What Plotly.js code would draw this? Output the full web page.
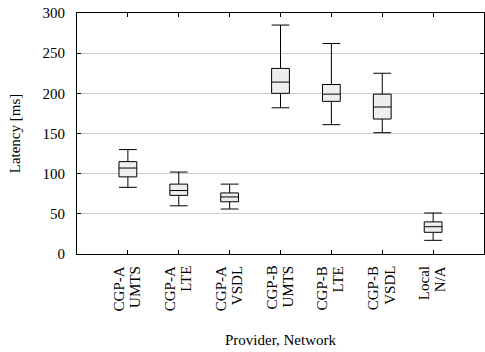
<!DOCTYPE html>
<html><head><meta charset="utf-8">
<script src="https://cdn.plot.ly/plotly-3.0.1.min.js"></script>
<style>html,body{margin:0;padding:0;background:#fff}</style>
</head><body><div id="chart" style="width:485px;height:352px"></div>
<script>
const providers = ["CGP-A","CGP-A","CGP-A","CGP-B","CGP-B","CGP-B","Local"];
const networks  = ["UMTS","LTE","VSDL","UMTS","LTE","VSDL","N/A"];
const categories = providers.map((p, i) => p + " " + networks[i]);
const lowerWhisker = [83, 60, 56, 182, 161, 151, 17];
const q1Values     = [96, 73, 65, 200, 190, 168, 27];
const medianValues = [107, 79, 71, 214, 199, 183, 34];
const q3Values     = [115, 87, 76, 231, 211, 199, 40];
const upperWhisker = [130, 102, 87, 285, 262, 225, 51];
const yTicks = [0, 50, 100, 150, 200, 250, 300];

const font = {family: "Liberation Serif", size: 15, color: "#000"};
const trace = {
  type: "box",
  x: categories,
  q1: q1Values, median: medianValues, q3: q3Values,
  lowerfence: lowerWhisker, upperfence: upperWhisker,
  fillcolor: "#eeeeee",
  line: {color: "#000", width: 1},
  width: 0.35,
  whiskerwidth: 1,
  boxpoints: false,
  hoverinfo: "none"
};
const annotations = [];
categories.forEach((c, i) => {
  [[providers[i], -9], [networks[i], 7]].forEach(([txt, dx]) => {
    annotations.push({
      x: c, y: 0, xref: "x", yref: "y", text: txt, showarrow: false,
      textangle: -90, xanchor: "center", yanchor: "top",
      xshift: dx, yshift: -10, font: font
    });
  });
});
const layout = {
  width: 485, height: 352,
  margin: {l: 77, r: 1, t: 13, b: 98},
  paper_bgcolor: "#fff", plot_bgcolor: "#fff",
  showlegend: false,
  font: font,
  annotations: annotations,
  xaxis: {
    type: "category", range: [-1, 7],
    ticks: "inside", ticklen: 4, tickcolor: "#000", showticklabels: false,
    showline: true, linecolor: "#000", linewidth: 1, mirror: "ticks",
    showgrid: false, zeroline: false,
    title: {text: "Provider, Network", font: font, standoff: 80}
  },
  yaxis: {
    range: [0, 300], tickvals: yTicks, ticktext: yTicks.map(String),
    ticks: "inside", ticklen: 4, tickcolor: "#000", ticklabelstandoff: 8,
    showline: true, linecolor: "#000", linewidth: 1, mirror: "ticks",
    showgrid: true, gridcolor: "#cccccc", gridwidth: 1, zeroline: false, tickfont: font,
    title: {text: "Latency [ms]", font: font, standoff: 18}
  }
};
Plotly.newPlot("chart", [trace], layout, {staticPlot: true, displayModeBar: false});
</script></body></html>
